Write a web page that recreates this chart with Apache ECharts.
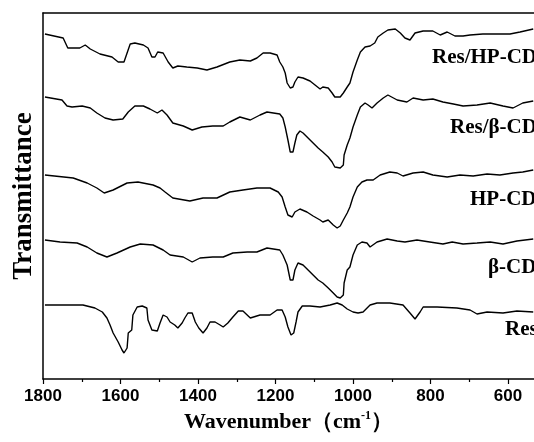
<!DOCTYPE html>
<html>
<head>
<meta charset="UTF-8">
<title>FTIR</title>
<script src="https://cdn.jsdelivr.net/npm/echarts@6/dist/echarts.min.js"></script>
<style>
  html, body { margin: 0; padding: 0; background: #fff; }
  #chart { width: 534px; height: 442px; }
</style>
</head>
<body>
<div id="chart"></div>
<script>
// wavenumber (cm-1) and transmittance (arbitrary, offset)
var resHpWn = [1795,1748,1736,1705,1691,1678,1653,1622,1606,1591,1583,1575,1563,1541,1529,1519,1511,1504,1490,1477,1465,1452,1429,1402,1377,1351,1318,1292,1265,1248,1232,1214,1196,1189,1181,1175,1170,1162,1155,1150,1142,1129,1111,1098,1085,1078,1064,1054,1047,1033,1025,1015,1008,1000,989,981,969,956,944,936,922,910,891,878,866,853,840,819,794,775,757,737,716,698,665,629,595,569,535];
var resHpT  = [345,341,331,331,334,330,325,322,317,317,326,335,336,334,331,322,322,327,326,317,311,313,312,311,309,312,317,319,318,321,326,326,324,317,312,306,296,291,292,297,302,301,298,294,290,292,291,286,282,282,286,292,296,307,319,327,332,333,336,342,346,349,350,346,341,339,346,348,348,344,347,343,343,344,345,345,345,347,350];

var resBetaWn = [1795,1751,1738,1725,1699,1678,1661,1640,1619,1594,1580,1563,1541,1524,1505,1493,1480,1465,1438,1415,1390,1362,1335,1318,1292,1265,1240,1222,1189,1181,1175,1168,1162,1155,1150,1145,1137,1129,1116,1103,1090,1078,1064,1054,1047,1033,1025,1023,1015,1008,1000,989,981,969,961,951,938,922,910,886,861,845,819,794,768,741,716,680,646,613,587,562,535];
var resBetaT  = [282,279,273,272,273,271,266,261,259,260,267,273,273,270,266,269,264,256,253,249,252,253,253,257,262,259,264,267,265,261,252,239,227,227,236,244,248,246,241,236,231,227,222,217,212,211,214,224,234,241,252,264,272,276,274,271,276,281,284,279,277,281,279,280,277,275,273,274,276,273,271,276,278];

var hpWn = [1795,1722,1686,1661,1642,1619,1583,1555,1516,1498,1485,1465,1421,1387,1351,1318,1284,1248,1214,1193,1183,1175,1168,1157,1150,1137,1119,1103,1085,1078,1064,1051,1041,1033,1025,1015,1008,1000,989,977,964,948,930,905,886,871,845,819,794,757,724,690,654,621,587,562,535];
var hpT  = [204,201,196,191,186,189,196,197,194,191,187,181,178,181,181,187,189,191,191,187,182,172,164,162,167,170,167,163,159,157,159,154,151,153,159,166,172,182,192,197,199,199,204,207,206,203,206,207,204,202,204,203,205,204,206,207,209];

var betaWn = [1795,1756,1712,1686,1661,1635,1609,1575,1549,1516,1490,1472,1438,1415,1395,1362,1335,1310,1273,1248,1222,1189,1181,1170,1162,1155,1150,1142,1129,1116,1103,1090,1078,1064,1051,1041,1033,1025,1023,1015,1008,1000,989,977,964,956,938,912,886,866,835,802,768,744,716,680,646,613,577,535];
var betaT  = [139,137,136,132,126,122,126,132,135,134,129,124,122,117,121,122,122,126,127,127,131,129,124,114,99,99,109,116,114,109,104,99,96,91,86,82,81,84,96,109,112,124,134,137,136,132,137,140,138,137,139,137,135,137,135,136,137,135,138,140];

var resWn = [1795,1697,1666,1647,1635,1627,1619,1606,1596,1591,1583,1580,1571,1568,1557,1544,1532,1529,1519,1505,1498,1490,1480,1472,1460,1452,1441,1434,1426,1415,1407,1398,1387,1377,1369,1356,1343,1335,1323,1310,1296,1284,1265,1240,1214,1196,1183,1175,1168,1160,1153,1147,1142,1131,1111,1085,1059,1041,1028,1015,1000,987,974,956,938,905,871,853,840,827,819,783,732,698,680,654,613,577,535];
var resT  = [74,74,71,67,61,54,46,37,29,26,31,46,49,64,72,73,71,59,49,48,56,64,62,57,54,51,56,61,66,66,57,51,46,51,57,57,54,52,56,62,68,68,61,64,64,69,69,62,52,44,46,57,67,73,73,72,74,76,74,70,67,66,67,74,76,76,74,66,60,67,72,72,71,69,65,67,66,68,67];

var seriesNames = ['Res/HP-CD', 'Res/\u03b2-CD', 'HP-CD', '\u03b2-CD', 'Res'];
var majorTicks = [1800, 1600, 1400, 1200, 1000, 800, 600];
var minorTicks = [1700, 1500, 1300, 1100, 900, 700];

function pairs(wn, t) {
    var out = [];
    for (var i = 0; i < wn.length; i++) out.push([wn[i], t[i]]);
    return out;
}

var curves = [
    pairs(resHpWn, resHpT),
    pairs(resBetaWn, resBetaT),
    pairs(hpWn, hpT),
    pairs(betaWn, betaT),
    pairs(resWn, resT)
];

// label placement inside the plot (left px, middle y px)
var labelPos = [[432, 58], [450, 128], [470, 200], [488, 268], [505, 330]];

var myChart = echarts.init(document.getElementById('chart'));

var option = {
    animation: false,
    grid: { left: 43, top: 13, right: 0, bottom: 63 },
    xAxis: [{
        type: 'value',
        inverse: true,
        min: 533,
        max: 1800,
        position: 'bottom',
        name: '{a|Wavenumber\uff08cm}{s|-1}{a|\uff09}',
        nameLocation: 'middle',
        nameGap: 29,
        nameTextStyle: {
            rich: {
                a: { fontFamily: 'Liberation Serif', fontWeight: 'bold', fontSize: 22, color: '#000' },
                s: { fontFamily: 'Liberation Serif', fontWeight: 'bold', fontSize: 12, color: '#000', verticalAlign: 'top', padding: [0, 0, 12, 0] }
            }
        },
        axisLine: { lineStyle: { color: '#000', width: 1.5 } },
        axisTick: { customValues: majorTicks, length: 5, lineStyle: { color: '#000', width: 1.2 } },
        axisLabel: {
            customValues: majorTicks,
            margin: 9,
            formatter: function (v) { return String(v); },
            fontFamily: 'Liberation Sans',
            fontWeight: 'bold',
            fontSize: 17,
            color: '#000'
        },
        splitLine: { show: false }
    }, {
        type: 'value',
        inverse: true,
        min: 533,
        max: 1800,
        position: 'bottom',
        axisLine: { show: false },
        axisTick: { customValues: minorTicks, length: 3, lineStyle: { color: '#000', width: 1.2 } },
        axisLabel: { show: false },
        splitLine: { show: false }
    }, {
        type: 'value',
        inverse: true,
        min: 533,
        max: 1800,
        position: 'top',
        axisLine: { lineStyle: { color: '#000', width: 1.5 } },
        axisTick: { show: false },
        axisLabel: { show: false },
        splitLine: { show: false }
    }],
    yAxis: [{
        type: 'value',
        min: 0,
        max: 366,
        name: 'Transmittance',
        nameLocation: 'middle',
        nameGap: 5,
        nameRotate: 90,
        nameTextStyle: { fontFamily: 'Liberation Serif', fontWeight: 'bold', fontSize: 27, color: '#000' },
        axisLine: { show: true, lineStyle: { color: '#000', width: 1.5 } },
        axisTick: { show: false },
        axisLabel: { show: false },
        splitLine: { show: false }
    }],
    graphic: labelPos.map(function (p, i) {
        return {
            type: 'text',
            x: p[0],
            y: p[1],
            style: {
                text: seriesNames[i],
                fontFamily: 'Liberation Serif',
                fontWeight: 'bold',
                fontSize: 21,
                fill: '#000',
                verticalAlign: 'middle'
            }
        };
    }),
    series: curves.map(function (d, i) {
        return {
            name: seriesNames[i],
            type: 'line',
            xAxisIndex: 0,
            data: d,
            showSymbol: false,
            lineStyle: { color: '#000', width: 1.4 }
        };
    })
};

myChart.setOption(option);
window.onresize = myChart.resize;
</script>
</body>
</html>
